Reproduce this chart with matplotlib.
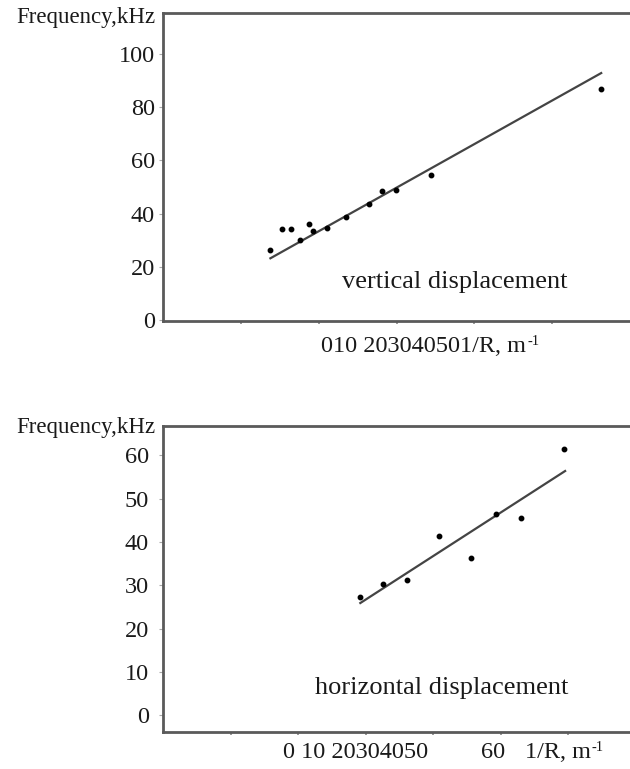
import matplotlib
matplotlib.use("Agg")
import matplotlib.pyplot as plt

plt.rcParams['font.family'] = ['Liberation Serif', 'DejaVu Serif']

# vertical displacement: 1/R (m^-1) vs frequency (kHz)
vert_x = [13.8, 15.3, 16.4, 17.6, 18.8, 19.3, 21.1, 23.5, 26.5, 28.1, 29.9, 34.4, 56.3]
vert_y = [26.3, 34.1, 34.1, 30.1, 36.1, 33.6, 34.5, 38.9, 43.7, 48.6, 48.8, 54.6, 86.9]
vert_fit_x = [13.8, 56.3]
vert_fit_y = [23.2, 92.9]
vert_yticks = [0, 20, 40, 60, 80, 100]

# horizontal displacement
hor_x = [29.2, 32.6, 36.1, 40.8, 45.5, 49.2, 53.0, 59.4]
hor_y = [27.3, 30.4, 31.3, 41.4, 36.3, 46.4, 45.6, 61.6]
hor_fit_x = [29.2, 59.5]
hor_fit_y = [25.9, 56.4]
hor_yticks = [0, 10, 20, 30, 40, 50, 60]

W, H = 630, 769
fig = plt.figure(figsize=(W / 100, H / 100), dpi=100)
renderer = fig.canvas.get_renderer()
txt_col = '#1a1a1a'

def px(x, y):
    return x / W, 1 - y / H

def unit_label(x, y, text, size=17.5):
    # "1/R, m" followed by a small raised "-1" (plain hyphen, like the source)
    t = fig.text(*px(x, y), text, fontsize=size, va='center', ha='left', color=txt_col)
    bb = t.get_window_extent(renderer)
    fig.text((bb.x1 + 1) / W, (bb.y1 - 5) / H, '-1', fontsize=size * 0.6,
             va='center', ha='left', color=txt_col)

spine_col = '#5a5a5a'

def style(ax, yticks, pad):
    for s in ['top', 'left', 'bottom']:
        ax.spines[s].set_color(spine_col)
        ax.spines[s].set_linewidth(2.0)
    ax.spines['right'].set_visible(False)
    ax.set_yticks(yticks)
    ax.tick_params(axis='y', length=3, width=0.8, color='#aaaaaa', pad=pad,
                   labelsize=17.5, labelcolor=txt_col)
    ax.tick_params(axis='x', length=2, width=1.2, color='#888888', labelbottom=False)

# top panel
ax1 = fig.add_axes([163 / W, 1 - 321 / H, 1 - 163 / W, (321 - 13) / H])
ax1.plot(vert_fit_x, vert_fit_y, color='#444444', lw=1.6)
ax1.plot(vert_x, vert_y, 'o', color='black', ms=3.2)
ax1.set_xlim(0, 60)
ax1.set_ylim(-0.4, 115.5)
ax1.set_xticks([10, 20, 30, 40, 50])
style(ax1, vert_yticks, 3)
fig.text(*px(342, 282), 'vertical displacement', fontsize=19, va='center', ha='left', color=txt_col)
fig.text(*px(155, 17), 'Frequency,kHz', fontsize=16.5, va='center', ha='right', color=txt_col)
unit_label(321, 347, '010 203040501/R, m')

# bottom panel
ax2 = fig.add_axes([163 / W, 1 - 732 / H, 1 - 163 / W, (732 - 426) / H])
ax2.plot(hor_fit_x, hor_fit_y, color='#444444', lw=1.6)
ax2.plot(hor_x, hor_y, 'o', color='black', ms=3.2)
ax2.set_xlim(0, 69.1)
ax2.set_ylim(-3.9, 66.8)
ax2.set_xticks([10, 20, 30, 40, 50, 60])
style(ax2, hor_yticks, 7)
fig.text(*px(315, 688), 'horizontal displacement', fontsize=19, va='center', ha='left', color=txt_col)
fig.text(*px(155, 427), 'Frequency,kHz', fontsize=16.5, va='center', ha='right', color=txt_col)
fig.text(*px(283, 753), '0 10 20304050', fontsize=17.5, va='center', ha='left', color=txt_col)
fig.text(*px(481, 753), '60', fontsize=17.5, va='center', ha='left', color=txt_col)
unit_label(525, 753, '1/R, m')

fig.savefig('out.png', dpi=100)
